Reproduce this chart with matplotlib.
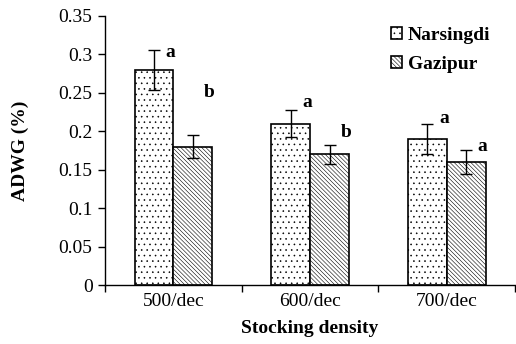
import numpy as np
import matplotlib.pyplot as plt

plt.rcParams['font.family'] = ['Liberation Serif', 'DejaVu Serif']
plt.rcParams['hatch.linewidth'] = 0.4

categories = ['500/dec', '600/dec', '700/dec']
narsingdi = [0.28, 0.21, 0.19]
narsingdi_err = [0.026, 0.018, 0.019]
gazipur = [0.18, 0.17, 0.16]
gazipur_err = [0.015, 0.012, 0.016]
narsingdi_letters = ['a', 'a', 'a']
gazipur_letters = ['b', 'b', 'a']
narsingdi_letter_y = [0.303, 0.238, 0.216]
gazipur_letter_y = [0.251, 0.198, 0.18]

fig = plt.figure(figsize=(5.16, 3.44), dpi=100)
ax = fig.add_axes([0.2035, 0.1715, 0.795, 0.782])

x = np.arange(len(categories))
w = 0.284
ax.bar(x - w/2, narsingdi, w, color='white', edgecolor='black', linewidth=1.2,
       hatch='...', label='Narsingdi')
ax.bar(x + w/2, gazipur, w, color='white', edgecolor='black', linewidth=1.2,
       hatch='\\\\\\\\\\\\\\\\', label='Gazipur')
ax.errorbar(x - w/2, narsingdi, yerr=narsingdi_err, fmt='none', ecolor='black',
            elinewidth=1, capsize=4, capthick=1)
ax.errorbar(x + w/2, gazipur, yerr=gazipur_err, fmt='none', ecolor='black',
            elinewidth=1, capsize=4, capthick=1)

for i in range(len(categories)):
    ax.text(x[i] - w/2 + 0.12, narsingdi_letter_y[i], narsingdi_letters[i],
            fontsize=14, fontweight='bold', ha='center', va='center')
    ax.text(x[i] + w/2 + 0.12, gazipur_letter_y[i], gazipur_letters[i],
            fontsize=14, fontweight='bold', ha='center', va='center')

ax.set_xlim(-0.5, 2.5)
ax.set_ylim(0, 0.35)
ax.set_yticks(np.arange(0, 0.351, 0.05))
ax.set_yticklabels(['0', '0.05', '0.1', '0.15', '0.2', '0.25', '0.3', '0.35'])
ax.set_xticks(x)
ax.set_xticklabels(categories)
ax.set_xticks([-0.5, 0.5, 1.5, 2.5], minor=True)
ax.tick_params(axis='x', which='major', length=0, labelsize=14, pad=6)
ax.tick_params(axis='x', which='minor', length=5, direction='out', width=1)
ax.tick_params(axis='y', length=5, direction='out', width=1, labelsize=14, pad=4)

for s in ['top', 'right']:
    ax.spines[s].set_visible(False)
ax.spines['left'].set_linewidth(1)
ax.spines['bottom'].set_linewidth(1)

ax.set_ylabel('ADWG (%)', fontsize=14, fontweight='bold', labelpad=21)
ax.set_xlabel('Stocking density', fontsize=14, fontweight='bold', labelpad=7)

ax.legend(loc='upper left', bbox_to_anchor=(0.698, 0.96), frameon=False,
          prop={'weight': 'bold', 'size': 14}, handlelength=0.55, handleheight=0.55,
          handletextpad=0.3, labelspacing=0.62, borderpad=0, borderaxespad=0)

fig.savefig('out.png', dpi=100)
